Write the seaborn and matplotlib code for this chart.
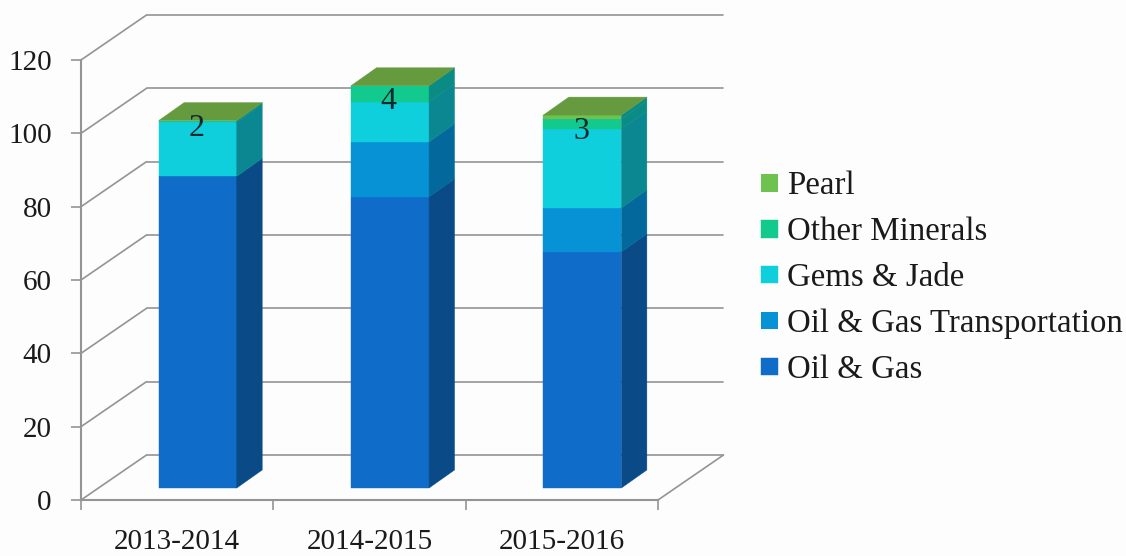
import numpy as np
import matplotlib
matplotlib.use("Agg")
import matplotlib.pyplot as plt
import seaborn as sns
from matplotlib.patches import Polygon
from matplotlib.transforms import Affine2D

years = ["2013-2014", "2014-2015", "2015-2016"]
series_names = ["Oil & Gas", "Oil & Gas Transportation", "Gems & Jade", "Other Minerals", "Pearl"]
oil_gas = [85.0, 79.4, 64.4]
oil_gas_transport = [0.0, 15.0, 12.0]
gems_jade = [14.7, 10.9, 21.5]
other_minerals = [0.5, 4.4, 2.7]
pearl = [0.0, 0.0, 1.1]
other_labels = ["2", "4", "3"]
y_ticks = [0, 20, 40, 60, 80, 100, 120]

front_colors = ["#0f6cc8", "#0892d6", "#10cfdc", "#12c98e", "#6fc24f"]
side_colors = ["#0a4a87", "#03689b", "#0a8791", "#0a8b84", "#0a8b84"]
top_color = "#659a3f"
grid_color = "#949494"
text_color = "#1a1a1a"

sns.set_theme(style="white")
plt.rcParams["font.family"] = ["Liberation Serif", "DejaVu Serif"]

W, H = 1126, 556
fig = plt.figure(figsize=(W / 100, H / 100), dpi=100, facecolor="#fdfdfd")
ax = fig.add_axes([81 / W, (H - 500) / H, (658 - 81) / W, 440 / H], facecolor="none")

# the 3d look is only pixel offsets on top of the normal data transform
wall = Affine2D().translate(65.5, 45)
floor = Affine2D().translate(20.5, 12)
depth = (25.5, 18)

series = [oil_gas, oil_gas_transport, gems_jade, other_minerals, pearl]
bottom = np.zeros(3)
for name, vals, col in zip(series_names, series, front_colors):
    sns.barplot(x=years, y=vals, bottom=bottom, color=col, saturation=1, width=0.406,
                label=name, ax=ax, legend=False, zorder=3)
    bottom = bottom + np.array(vals)
totals = bottom

ax.set_xlim(-0.5, 2.5)
ax.set_ylim(0, 120)

# back wall and left wall
for y in y_ticks:
    ax.plot([-0.5, 2.5], [y, y], color=grid_color, lw=1.2, clip_on=False, zorder=1,
            transform=ax.transData + wall)
    p0 = ax.transData.transform((-0.5, y))
    ax.plot([p0[0], p0[0] + 65.5], [p0[1], p0[1] + 45], color=grid_color, lw=1.2,
            clip_on=False, zorder=1, transform=None)
p1 = ax.transData.transform((2.5, 0))
ax.plot([p1[0], p1[0] + 65.5], [p1[1], p1[1] + 45], color=grid_color, lw=1.2,
        clip_on=False, zorder=1, transform=None)

# side faces and top, built from the bars seaborn drew
n = len(years)
bars = list(ax.patches)
for i, patch in enumerate(bars):
    s = i // n
    x1 = patch.get_x() + patch.get_width()
    y0, y1 = patch.get_y(), patch.get_y() + patch.get_height()
    patch.set_transform(ax.transData + floor)
    if y1 == y0:
        # keep the patch, the legend swatch takes its colour from it
        patch.set_edgecolor("none")
        continue
    patch.set_edgecolor(front_colors[s])
    patch.set_linewidth(0.3)
    a = ax.transData.transform((x1, y0)) + (20.5, 12)
    b = ax.transData.transform((x1, y1)) + (20.5, 12)
    ax.add_patch(Polygon([a, b, b + depth, a + depth], closed=True, transform=None,
                         facecolor=side_colors[s], edgecolor=side_colors[s], lw=0.3,
                         zorder=3, clip_on=False))

for i, patch in enumerate(bars[:n]):
    x0 = patch.get_x()
    x1 = x0 + patch.get_width()
    a = ax.transData.transform((x0, totals[i])) + (20.5, 12)
    b = ax.transData.transform((x1, totals[i])) + (20.5, 12)
    ax.add_patch(Polygon([a, b, b + depth, a + depth], closed=True, transform=None,
                         facecolor=top_color, edgecolor=top_color, lw=0.3, zorder=4, clip_on=False))

# labels of the Other Minerals segment
for i, lab in enumerate(other_labels):
    y = oil_gas[i] + oil_gas_transport[i] + gems_jade[i] + other_minerals[i] / 2 - 2
    ax.text(i - 0.006, y, lab, ha="center", va="center", fontsize=23, color="#10282f", zorder=6,
            transform=ax.transData + floor)

sns.despine(ax=ax, top=True, right=True)
for sp in ["left", "bottom"]:
    ax.spines[sp].set_color(grid_color)
    ax.spines[sp].set_linewidth(1.5)
    ax.spines[sp].set_zorder(2)

ax.set_yticks(y_ticks)
ax.set_xticks(range(n))
ax.set_xticklabels(years)
ax.set_xticks([-0.5, 0.5, 1.5, 2.5], minor=True)
ax.tick_params(axis="y", length=7, width=1.2, color=grid_color, pad=14, labelsize=21, labelcolor=text_color, left=True)
ax.tick_params(axis="x", which="major", length=0, pad=21, labelsize=21, labelcolor=text_color)
ax.tick_params(axis="x", which="minor", length=7, width=1.2, color=grid_color, bottom=True)

handles, labels = ax.get_legend_handles_labels()
fig.legend(handles[::-1], labels[::-1], loc="center left", bbox_to_anchor=(761 / W, (H - 278) / H),
           frameon=False, fontsize=23.7, labelcolor=text_color, handlelength=0.52, handleheight=0.46,
           handletextpad=0.27, labelspacing=0.47, borderpad=0, borderaxespad=0)

fig.savefig("out.png", dpi=100, facecolor=fig.get_facecolor())
